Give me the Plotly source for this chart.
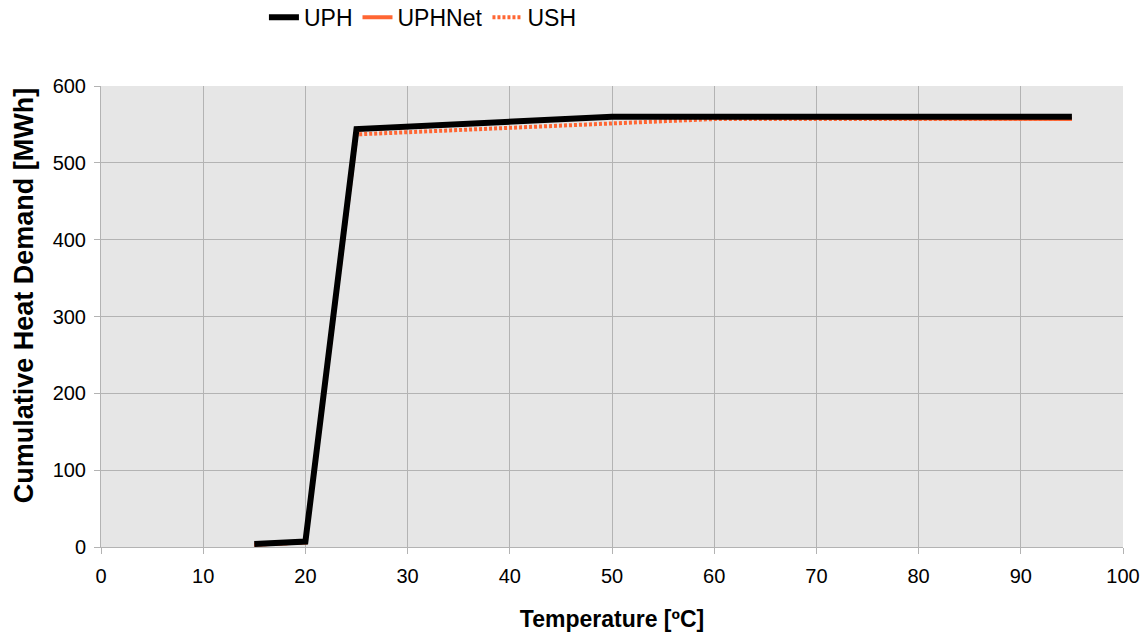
import plotly.graph_objects as go

# Cumulative heat demand curves vs. temperature
temp_uph = [15, 20, 25, 50, 95]
uph = [4, 7, 544, 560, 560]

temp_uphnet = [15, 20, 25, 50, 95]
uphnet = [3, 6, 543, 560, 557]

temp_ush = [15, 20, 25, 50, 60, 95]
ush = [3, 6, 537, 551, 557, 557]

x_ticks = list(range(0, 101, 10))
y_ticks = list(range(0, 601, 100))

ORANGE = "#ff6633"
FONT = "Liberation Sans, Arial, sans-serif"

fig = go.Figure()
fig.add_trace(go.Scatter(x=temp_ush, y=ush, name="USH", mode="lines",
                         line=dict(color=ORANGE, width=4, dash="3px,2px")))
fig.add_trace(go.Scatter(x=temp_uphnet, y=uphnet, name="UPHNet", mode="lines",
                         line=dict(color=ORANGE, width=4)))
fig.add_trace(go.Scatter(x=temp_uph, y=uph, name="UPH", mode="lines",
                         line=dict(color="#000000", width=6)))

axis_common = dict(
    showgrid=True, gridcolor="#b3b3b3", gridwidth=1,
    showline=True, linecolor="#b3b3b3", linewidth=1,
    ticks="outside", ticklen=6, tickcolor="#b3b3b3",
    tickfont=dict(family=FONT, size=20, color="#000000"),
    zeroline=False, automargin=False,
)

fig.update_layout(
    width=1145, height=637,
    margin=dict(l=101, r=22, t=86, b=90),
    paper_bgcolor="#ffffff",
    plot_bgcolor="#e6e6e6",
    font=dict(family=FONT, color="#000000"),
    showlegend=True,
    legend=dict(orientation="h", traceorder="reversed",
                x=0.315, xanchor="center", y=0.973, yref="container", yanchor="middle",
                font=dict(size=23), itemwidth=30, bgcolor="rgba(0,0,0,0)"),
    xaxis=dict(range=[0, 100], tickvals=x_ticks, ticklabelstandoff=5,
               title=dict(text="<b>Temperature [ºC]</b>", font=dict(size=23), standoff=24),
               **axis_common),
    yaxis=dict(range=[0, 600], tickvals=y_ticks, ticklabelstandoff=4,
               **axis_common),
    annotations=[dict(
        text="<b>Cumulative Heat Demand [MWh]</b>",
        xref="paper", yref="paper", x=-0.0753, y=0.546,
        xanchor="center", yanchor="middle", textangle=-90,
        showarrow=False, font=dict(family=FONT, size=27, color="#000000"),
    )],
)

fig.write_html("out.html")
